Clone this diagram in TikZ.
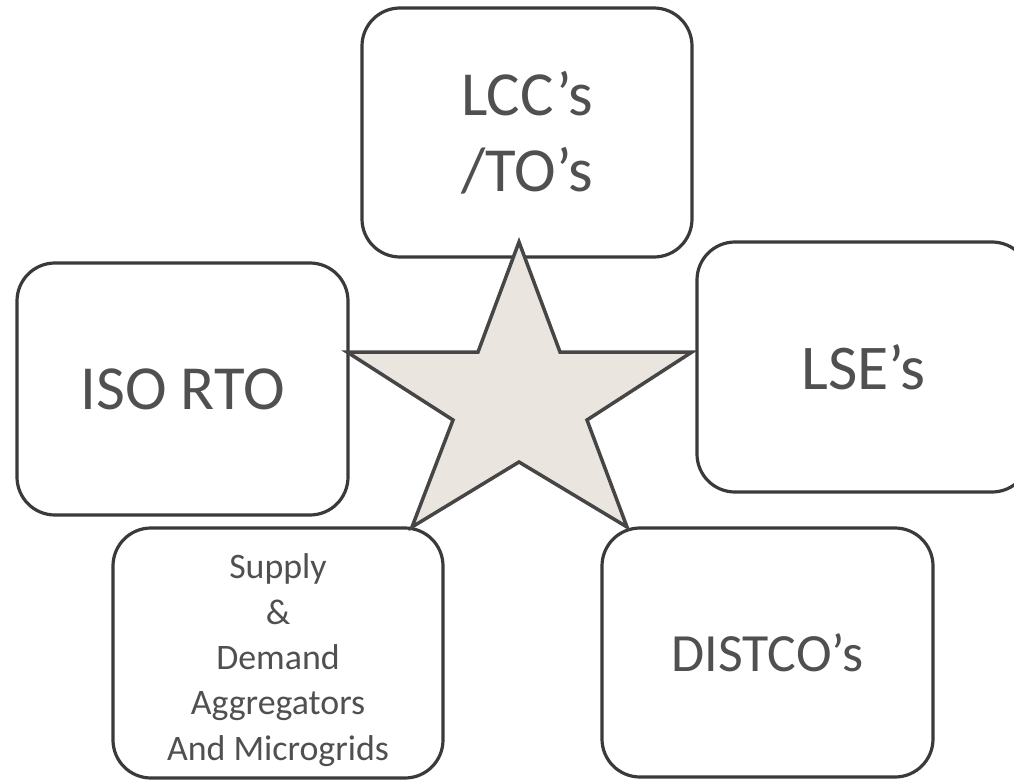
\documentclass[tikz,border=0pt]{standalone}
\usepackage{fontspec}
\setmainfont{Carlito}
\definecolor{boxline}{HTML}{3A3A3A}
\definecolor{txt}{HTML}{505050}
\definecolor{starfill}{HTML}{EAE6DF}
\definecolor{starline}{HTML}{464646}
\tikzset{
  actor/.style={draw=boxline, line width=3.2bp, rounded corners=38bp, fill=white,
    text=txt, align=center, inner sep=0pt},
  label text/.style={text=txt, align=center, inner sep=0pt},
}
\begin{document}
\begin{tikzpicture}[x=1bp,y=-1bp]
\useasboundingbox (0,0) rectangle (1014,780);
\clip (0,0) rectangle (1014,780);
\node[actor, minimum width=330bp, minimum height=249bp,
  font=\fontsize{63}{76}\selectfont] (lcc) at (527,132.5) {LCC’s\\/TO’s};
\node[actor, minimum width=331bp, minimum height=252bp,
  font=\fontsize{63}{76}\selectfont] (iso) at (182.5,389) {ISO RTO};
\node[actor, minimum width=333bp, minimum height=250bp,
  font=\fontsize{64}{76}\selectfont] (lse) at (863.5,367) {LSE’s};
\node[actor, minimum width=330bp, minimum height=250bp] (sup) at (278,653) {};
\node[label text, font=\fontsize{36}{45.5}\selectfont] (suptext)
  at ([yshift=-7bp]sup.center)
  {Supply\\\&\\Demand\\Aggregators\\And Microgrids};
\node[actor, minimum width=331bp, minimum height=249bp,
  font=\fontsize{54}{64}\selectfont] (dist) at (767.5,652.5) {DISTCO’s};
% central star
\draw[fill=starfill, draw=starline, line width=3.5bp, line join=miter]
  (519,242) -- (560,352) -- (692,352) -- (587,420) -- (627,527)
  -- (519,462) -- (412,527) -- (453,420) -- (347,352) -- (478,352) -- cycle;
\end{tikzpicture}
\end{document}
